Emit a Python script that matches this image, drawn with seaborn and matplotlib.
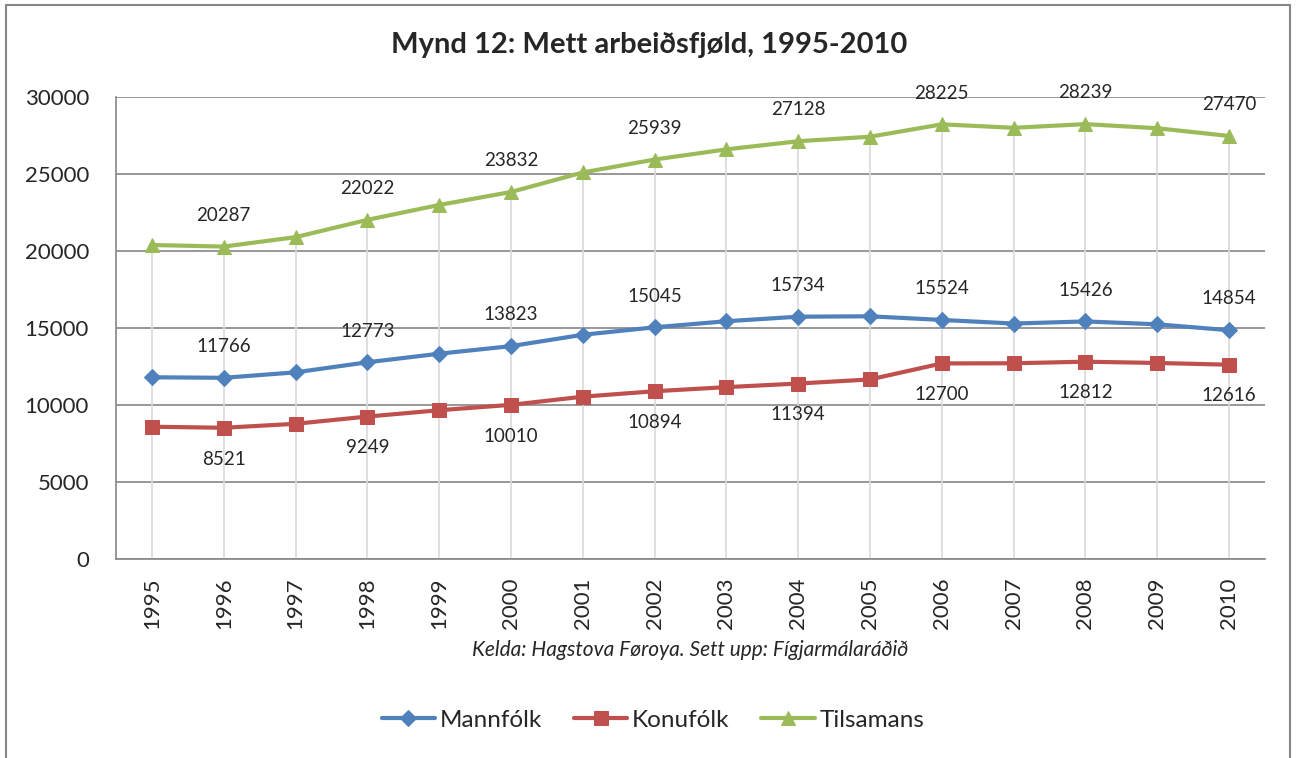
import numpy as np
import pandas as pd
import matplotlib.pyplot as plt
import seaborn as sns
from matplotlib.patches import Rectangle

years = list(range(1995, 2011))
mannfolk = [11800, 11766, 12120, 12773, 13330, 13823, 14560, 15045,
            15440, 15734, 15760, 15524, 15290, 15426, 15240, 14854]
konufolk = [8590, 8521, 8780, 9249, 9660, 10010, 10540, 10894,
            11160, 11394, 11660, 12700, 12710, 12812, 12730, 12616]
tilsamans = [20390, 20287, 20900, 22022, 22990, 23832, 25100, 25939,
             26600, 27128, 27420, 28225, 28000, 28239, 27970, 27470]
labelled = [1996, 1998, 2000, 2002, 2004, 2006, 2008, 2010]

df = pd.DataFrame({"ar": years, "Mannfólk": mannfolk,
                   "Konufólk": konufolk, "Tilsamans": tilsamans})

sns.set_style("white")
plt.rcParams["font.family"] = ["Lato", "DejaVu Sans"]

fig = plt.figure(figsize=(12.98, 7.58), dpi=100)
ax = fig.add_axes([116 / 1298, 1 - 559 / 758, (1265 - 116) / 1298, (559 - 97) / 758])

# drop lines
ax.vlines(df["ar"], 0, df["Tilsamans"], color="#d9d9d9", lw=1.2, zorder=1)

series = [
    ("Mannfólk", "#4f81bd", "D", 8, 1),
    ("Konufólk", "#c0504d", "s", 9.5, -1),
    ("Tilsamans", "#9bbb59", "^", 10, 1),
]
for name, col, mk, ms, side in series:
    sns.lineplot(data=df, x="ar", y=name, color=col, marker=mk, markersize=ms,
                 markeredgecolor=col, lw=3, label=name, ax=ax, zorder=3)
    sub = df[df["ar"].isin(labelled)]
    for x, y in zip(sub["ar"], sub[name]):
        ax.annotate(f"{y}", (x, y), xytext=(0, 22.5 * side), textcoords="offset points",
                    ha="center", va="center", fontsize=13.5, annotation_clip=False)

ax.set_xlim(1994.5, 2010.5)
ax.set_ylim(0, 30000)
ax.set_yticks(range(0, 30001, 5000))
ax.set_xticks(years)
ax.set_xticklabels([str(y) for y in years], rotation=90, fontsize=16)
ax.set_xticks(np.arange(1994.5, 2011, 1), minor=True)
ax.tick_params(axis="x", which="major", length=0, pad=13)
ax.tick_params(axis="x", which="minor", length=6, width=1.2, color="#868686", direction="out")
ax.tick_params(axis="y", length=6.5, width=1.2, color="#868686", direction="out",
               labelsize=16, pad=13)
ax.yaxis.grid(True, color="#868686", lw=1.2)
ax.set_axisbelow(True)
ax.set_xlabel("")
ax.set_ylabel("")
for s in ["top", "right"]:
    ax.spines[s].set_visible(False)
for s in ["left", "bottom"]:
    ax.spines[s].set_color("#868686")
    ax.spines[s].set_linewidth(1.2)

handles, labels = ax.get_legend_handles_labels()
ax.get_legend().remove()
fig.legend(handles, labels, loc="center", bbox_to_anchor=(653 / 1298, 1 - 720 / 758),
           ncol=3, frameon=False, fontsize=17.5, handlelength=2.2,
           handletextpad=0.2, columnspacing=1.3, numpoints=1)

fig.text(0.5, 1 - 45 / 758, "Mynd 12: Mett arbeiðsfjøld, 1995-2010",
         ha="center", va="center", fontsize=21, fontweight="bold")
fig.text(690 / 1298, 1 - 650 / 758, "Kelda: Hagstova Føroya. Sett upp: Fígjarmálaráðið",
         ha="center", va="center", fontsize=15, style="italic")

fig.patches.append(Rectangle((6 / 1298, -0.05), (1290 - 6) / 1298, 1.05 - 5 / 758,
                             transform=fig.transFigure, fill=False,
                             edgecolor="#868686", lw=1.5))

fig.savefig("out.png", dpi=100)
